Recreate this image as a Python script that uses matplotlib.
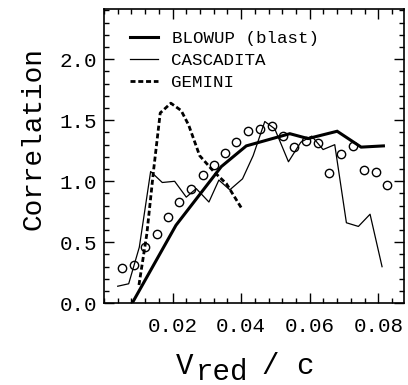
import matplotlib
matplotlib.use("Agg")
import matplotlib.pyplot as plt
from matplotlib.ticker import MultipleLocator

# ---- data ----
blowup_x = [0.0082, 0.0210, 0.0342, 0.0415, 0.0542, 0.0595, 0.0680, 0.0750, 0.0815]
blowup_y = [0.00, 0.64, 1.12, 1.29, 1.39, 1.35, 1.41, 1.28, 1.29]

casc_x = [0.0040, 0.0072, 0.0103, 0.0136, 0.0170, 0.0206, 0.0240, 0.0269, 0.0306,
          0.0335, 0.0367, 0.0404, 0.0435, 0.0469, 0.0498, 0.0538, 0.0574, 0.0606,
          0.0639, 0.0673, 0.0707, 0.0742, 0.0776, 0.0811]
casc_y = [0.14, 0.16, 0.46, 1.08, 0.99, 1.00, 0.87, 0.94, 0.83,
          1.01, 0.93, 1.02, 1.21, 1.49, 1.43, 1.16, 1.32, 1.37,
          1.26, 1.30, 0.66, 0.63, 0.73, 0.30]

gem_x = [0.0102, 0.0125, 0.0145, 0.0164, 0.0195, 0.0225, 0.0247, 0.0279, 0.0320, 0.0357, 0.0401]
gem_y = [0.15, 0.57, 1.10, 1.56, 1.64, 1.58, 1.46, 1.21, 1.08, 0.98, 0.78]

obs_x = [0.0053, 0.0087, 0.0121, 0.0155, 0.0188, 0.0220, 0.0255, 0.0289, 0.0321,
         0.0354, 0.0386, 0.0420, 0.0454, 0.0489, 0.0523, 0.0555, 0.0589, 0.0623,
         0.0657, 0.0691, 0.0725, 0.0759, 0.0792, 0.0826]
obs_y = [0.29, 0.31, 0.46, 0.57, 0.71, 0.83, 0.94, 1.05, 1.13,
         1.23, 1.32, 1.41, 1.43, 1.45, 1.37, 1.28, 1.33, 1.31,
         1.07, 1.22, 1.29, 1.09, 1.08, 0.97]

labels = ["BLOWUP (blast)", "CASCADITA", "GEMINI"]
xticks = [0.02, 0.04, 0.06, 0.08]
xticklabels = ["0.02", "0.04", "0.06", "0.08"]
yticks = [0.0, 0.5, 1.0, 1.5, 2.0]
yticklabels = ["0.0", "0.5", "1.0", "1.5", "2.0"]

FONT = "Liberation Mono"
plt.rcParams["font.family"] = [FONT, "DejaVu Sans Mono"]

W, H = 408, 385
fig = plt.figure(figsize=(W / 100, H / 100), dpi=100)
L, R, T, B = 104, 404, 8.5, 303.3
ax = fig.add_axes([L / W, (H - B) / H, (R - L) / W, (B - T) / H])

ax.plot(blowup_x, blowup_y, color="black", lw=2.2, label=labels[0], solid_joinstyle="miter")
ax.plot(casc_x, casc_y, color="black", lw=0.9, label=labels[1])
ax.plot(gem_x, gem_y, color="black", lw=2.0, ls=(0, (1.8, 1.0)), label=labels[2])
ax.plot(obs_x, obs_y, ls="none", marker="o", ms=6.0, mfc="none", mec="black", mew=1.0)

ax.set_xlim(0, 0.0875)
ax.set_ylim(0, 2.416)
ax.set_xticks(xticks)
ax.set_xticklabels(xticklabels)
ax.set_yticks(yticks)
ax.set_yticklabels(yticklabels)
ax.xaxis.set_minor_locator(MultipleLocator(0.004))
ax.yaxis.set_minor_locator(MultipleLocator(0.1))
ax.tick_params(which="both", direction="in", top=True, right=True, width=1.0, color="black")
ax.tick_params(which="major", length=7.2)
ax.tick_params(which="minor", length=3.6)
ax.tick_params(axis="x", which="major", labelsize=15, pad=10)
ax.tick_params(axis="y", which="major", labelsize=15, pad=5)
for s in ax.spines.values():
    s.set_linewidth(1.2)

leg = ax.legend(loc="upper left", bbox_to_anchor=(0.085, 0.925), frameon=False,
                fontsize=12.6, handlelength=1.6, handletextpad=0.8,
                labelspacing=0.38, borderpad=0, borderaxespad=0)

# y label
fig.text(34 / W, 1 - 139 / H, "Correlation", rotation=90, fontsize=20,
         ha="center", va="center")
# x label built from pieces (subscript "red")
fig.text(176 / W, 1 - 374 / H, "V", fontsize=21, ha="left", va="baseline")
fig.text(196 / W, 1 - 380 / H, "red", fontsize=21, ha="left", va="baseline")
fig.text(262 / W, 1 - 374 / H, "/ c", fontsize=21, ha="left", va="baseline")

fig.savefig("out.png", dpi=100)
